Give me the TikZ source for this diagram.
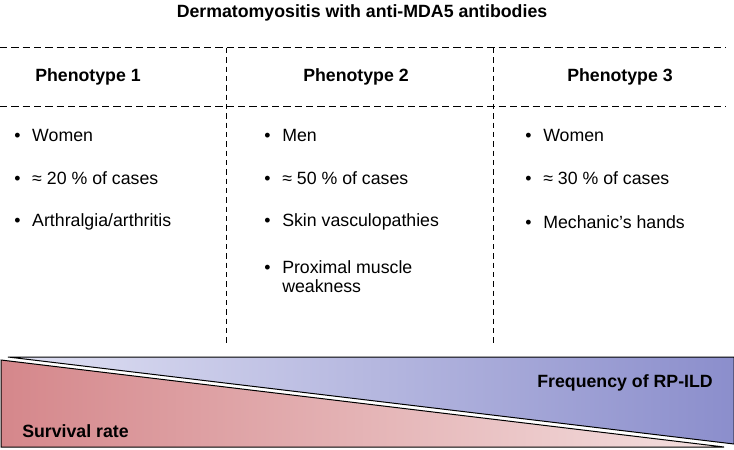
\documentclass[tikz,border=0pt]{standalone}
\usepackage{fontspec}
\setmainfont{Liberation Sans}
\definecolor{ildblue}{HTML}{8B8ECC}
\definecolor{ildpale}{HTML}{E0E1F3}
\definecolor{survred}{HTML}{D5878B}
\definecolor{survpale}{HTML}{F4E0E0}
\newcommand{\bul}{\hbox to 13.5pt{•\hss}}
\tikzset{
  txt/.style={font=\fontsize{13.3}{16.5}\selectfont, inner sep=0pt},
  head/.style={font=\fontsize{13.3}{16.5}\selectfont\bfseries, inner sep=0pt},
  item/.style={txt, anchor=west},
  hrule/.style={line width=0.75pt, dash pattern=on 5.5pt off 3pt},
  vrule/.style={line width=0.75pt, dash pattern=on 4pt off 3pt},
}
\begin{document}
\begin{tikzpicture}[x=0.75pt, y=-0.75pt]
  \useasboundingbox (0,0) rectangle (734,449);

  % title
  \node[head] (title) at (362,13) {Dermatomyositis with anti-MDA5 antibodies};

  % table grid
  \coordinate (tl) at (0,48);   \coordinate (tr) at (726,48);
  \coordinate (ml) at (0,107);  \coordinate (mr) at (726,107);
  \coordinate (c1t) at (226,48); \coordinate (c1b) at (226,343);
  \coordinate (c2t) at (493,48); \coordinate (c2b) at (493,343);
  \draw[hrule] (tl) -- (tr);
  \draw[hrule] (ml) -- (mr);
  \draw[vrule] (c1t) -- (c1b);
  \draw[vrule] (c2t) -- (c2b);

  % headers
  \node[head] (ph1) at (88,77)  {Phenotype 1};
  \node[head] (ph2) at (356,77) {Phenotype 2};
  \node[head] (ph3) at (620,77) {Phenotype 3};

  % bullet lists
  \node[item] (a1) at (14,135)  {\bul Women};
  \node[item] (a2) at (14,178)  {\bul ≈ 20 \% of cases};
  \node[item] (a3) at (14,222)  {\bul Arthralgia/arthritis};
  \node[item] (b1) at (264,135) {\bul Men};
  \node[item] (b2) at (264,178) {\bul ≈ 50 \% of cases};
  \node[item] (b3) at (264,222) {\bul Skin vasculopathies};
  \node[item] (b4) at (264,267) {\bul Proximal muscle};
  \node[item] (b5) at (282,286) {weakness};
  \node[item] (c1) at (525,135) {\bul Women};
  \node[item] (c2) at (525,178) {\bul ≈ 30 \% of cases};
  \node[item] (c3) at (525,222) {\bul Mechanic’s hands};

  % gradient triangles
  \shade[draw=black, line width=0.75pt, left color=ildpale, right color=ildblue]
    (8,357) -- (734,357) -- (734,444) -- cycle;
  \shade[draw=black, line width=0.75pt, left color=survred, right color=survpale]
    (1,360) -- (1,447) -- (724,447) -- cycle;
  \node[head, anchor=east] (rpild) at (713,383) {Frequency of RP-ILD};
  \node[head, anchor=west] (surv) at (22,431) {Survival rate};
\end{tikzpicture}
\end{document}
